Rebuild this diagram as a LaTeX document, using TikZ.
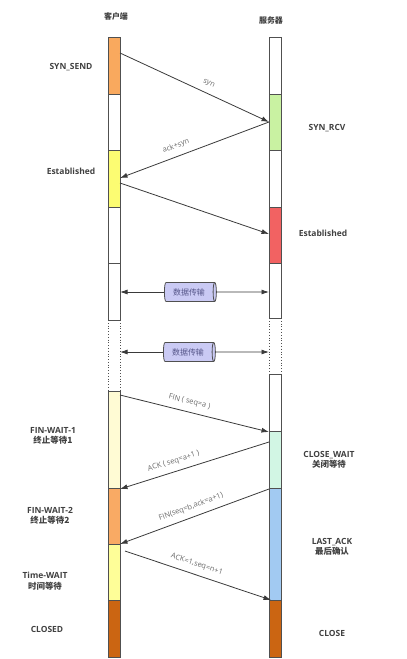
\documentclass[tikz,border=0pt]{standalone}
\usepackage{fontspec}
\setmainfont{Open Sans}
\newfontfamily\cjk{Noto Sans CJK SC}
\usepackage{tikz}
\usetikzlibrary{arrows.meta}
\usetikzlibrary{shapes.geometric}

\definecolor{lineGray}{HTML}{505050}
\definecolor{arrowGray}{HTML}{3A3A3A}
\definecolor{textGray}{HTML}{404040}
\definecolor{labelGray}{HTML}{6A6A6A}
\definecolor{synOrange}{HTML}{F9A95E}
\definecolor{rcvGreen}{HTML}{C9F2A2}
\definecolor{estYellow}{HTML}{FCFC72}
\definecolor{estRed}{HTML}{F26262}
\definecolor{fwOneYellow}{HTML}{FFFBD4}
\definecolor{fwTwoOrange}{HTML}{F9AA64}
\definecolor{twYellow}{HTML}{FEFE98}
\definecolor{closeBrown}{HTML}{CB6512}
\definecolor{cwMint}{HTML}{D2F6E4}
\definecolor{laBlue}{HTML}{A2CAF2}
\definecolor{pipeBlue}{HTML}{CACAF4}

\tikzset{
	seg/.style={draw=lineGray, line width=0.8bp},
	msg/.style={draw=arrowGray, line width=0.8bp},
	tipfwd/.style={-{Latex[length=7.5bp,width=5bp]}},
	tipback/.style={{Latex[length=7.5bp,width=5bp]}-},
	state/.style={font=\fontsize{8.5}{10.5}\selectfont\bfseries, text=textGray, align=center},
	head/.style={font=\cjk\fontsize{8}{10}\selectfont\bfseries, text=textGray},
	msglabel/.style={font=\fontsize{7.5}{9}\selectfont, text=labelGray, sloped, above=5bp, inner sep=1bp},
	pipe/.style={shape=cylinder, shape border rotate=0, aspect=0.35, draw=lineGray, line width=0.8bp, fill=pipeBlue,
		minimum height=52bp, minimum width=19bp, inner sep=1bp, font=\cjk\fontsize{8}{9}\selectfont, text=labelGray!80!blue}
}

\begin{document}
\begin{tikzpicture}[x=1bp,y=-1bp]
				\useasboundingbox (0,0) rectangle (406,659);
				
				% client bar
				\foreach \top/\bot/\col in {37/94/synOrange, 94/150/white, 150/207/estYellow, 207/263/white, 263/320/white,
					391/488/fwOneYellow, 488/544/fwTwoOrange, 544/600/twYellow, 600/657/closeBrown}
					\filldraw[seg, fill=\col] (108,\top) rectangle (120,\bot);
				\draw[seg, dotted] (108,320) -- (108,391) (120,320) -- (120,391);
				
				% server bar
				\foreach \top/\bot/\col in {37/94/white, 94/150/rcvGreen, 150/207/white, 207/263/estRed, 263/318/white,
					374/431/white, 431/488/cwMint, 488/600/laBlue, 600/657/closeBrown}
					\filldraw[seg, fill=\col] (269,\top) rectangle (281,\bot);
				\draw[seg, dotted] (269,318) -- (269,374) (281,318) -- (281,374);
				
				\node[head] (client) at (116,16) {客户端};
				\node[head] (server) at (271,20) {服务器};
				
				% end points of the messages
				\coordinate (cSyn)   at (120,53);
				\coordinate (sSyn)   at (269,122);
				\coordinate (cAck)   at (120,178);
				\coordinate (cEst)   at (120,183);
				\coordinate (sEst)   at (269,234);
				\coordinate (cData)  at (120,292);
				\coordinate (sData)  at (269,292);
				\coordinate (cDataB) at (120,352);
				\coordinate (sDataB) at (269,352);
				\coordinate (cFin)   at (120,395);
				\coordinate (sFin)   at (269,432);
				\coordinate (sAckA)  at (269,442);
				\coordinate (cAckA)  at (120,489);
				\coordinate (sFinB)  at (269,489);
				\coordinate (cFinB)  at (120,544);
				\coordinate (cLast)  at (125,551);
				\coordinate (sLast)  at (271,600);
				
				\draw[msg, tipfwd] (cSyn) -- (sSyn) node[msglabel, pos=0.57] {syn};
				\draw[msg, tipback] (cAck) -- (sSyn) node[msglabel, pos=0.4] {ack+syn};
				\draw[msg, tipfwd] (cEst) -- (sEst);
				
				\node[pipe] (data) at (189,292) {数据传输};
				\node[pipe] (dataB) at (188,352) {数据传输};
				\draw[msg, tipfwd] (data) -- (cData);
				\draw[msg, tipfwd] (data) -- (sData);
				\draw[msg, tipfwd] (dataB) -- (cDataB);
				\draw[msg, tipfwd] (dataB) -- (sDataB);
				
				\draw[msg, tipfwd] (cFin) -- (sFin) node[msglabel, pos=0.45] {FIN ( seq=a )};
				\draw[msg, tipback] (cAckA) -- (sAckA) node[msglabel, pos=0.38] {ACK ( seq=a+1 )};
				\draw[msg, tipback] (cFinB) -- (sFinB) node[msglabel, pos=0.5] {FIN(seq=b,ack=a+1)};
				\draw[msg, tipfwd] (cLast) -- (sLast) node[msglabel, pos=0.47] {ACK=1,seq=n+1};
				
				% states
				\node[state] (synSend) at (71,67) {SYN\_SEND};
				\node[state] (cliEst) at (71,171) {Established};
				\node[state] (finWaitA) at (53,436) {FIN-WAIT-1\\{\cjk 终止等待1}};
				\node[state] (finWaitB) at (50,516) {FIN-WAIT-2\\{\cjk 终止等待2}};
				\node[state] (timeWait) at (45,581) {Time-WAIT\\{\cjk 时间等待}};
				\node[state] (closed) at (47,629) {CLOSED};
				
				\node[state] (synRcv) at (327,128) {SYN\_RCV};
				\node[state] (srvEst) at (323,233) {Established};
				\node[state] (closeWait) at (329,460) {CLOSE\_WAIT\\{\cjk 关闭等待}};
				\node[state] (lastAck) at (332,547) {LAST\_ACK\\{\cjk 最后确认}};
				\node[state] (close) at (332,633) {CLOSE};
				
\end{tikzpicture}
\end{document}
